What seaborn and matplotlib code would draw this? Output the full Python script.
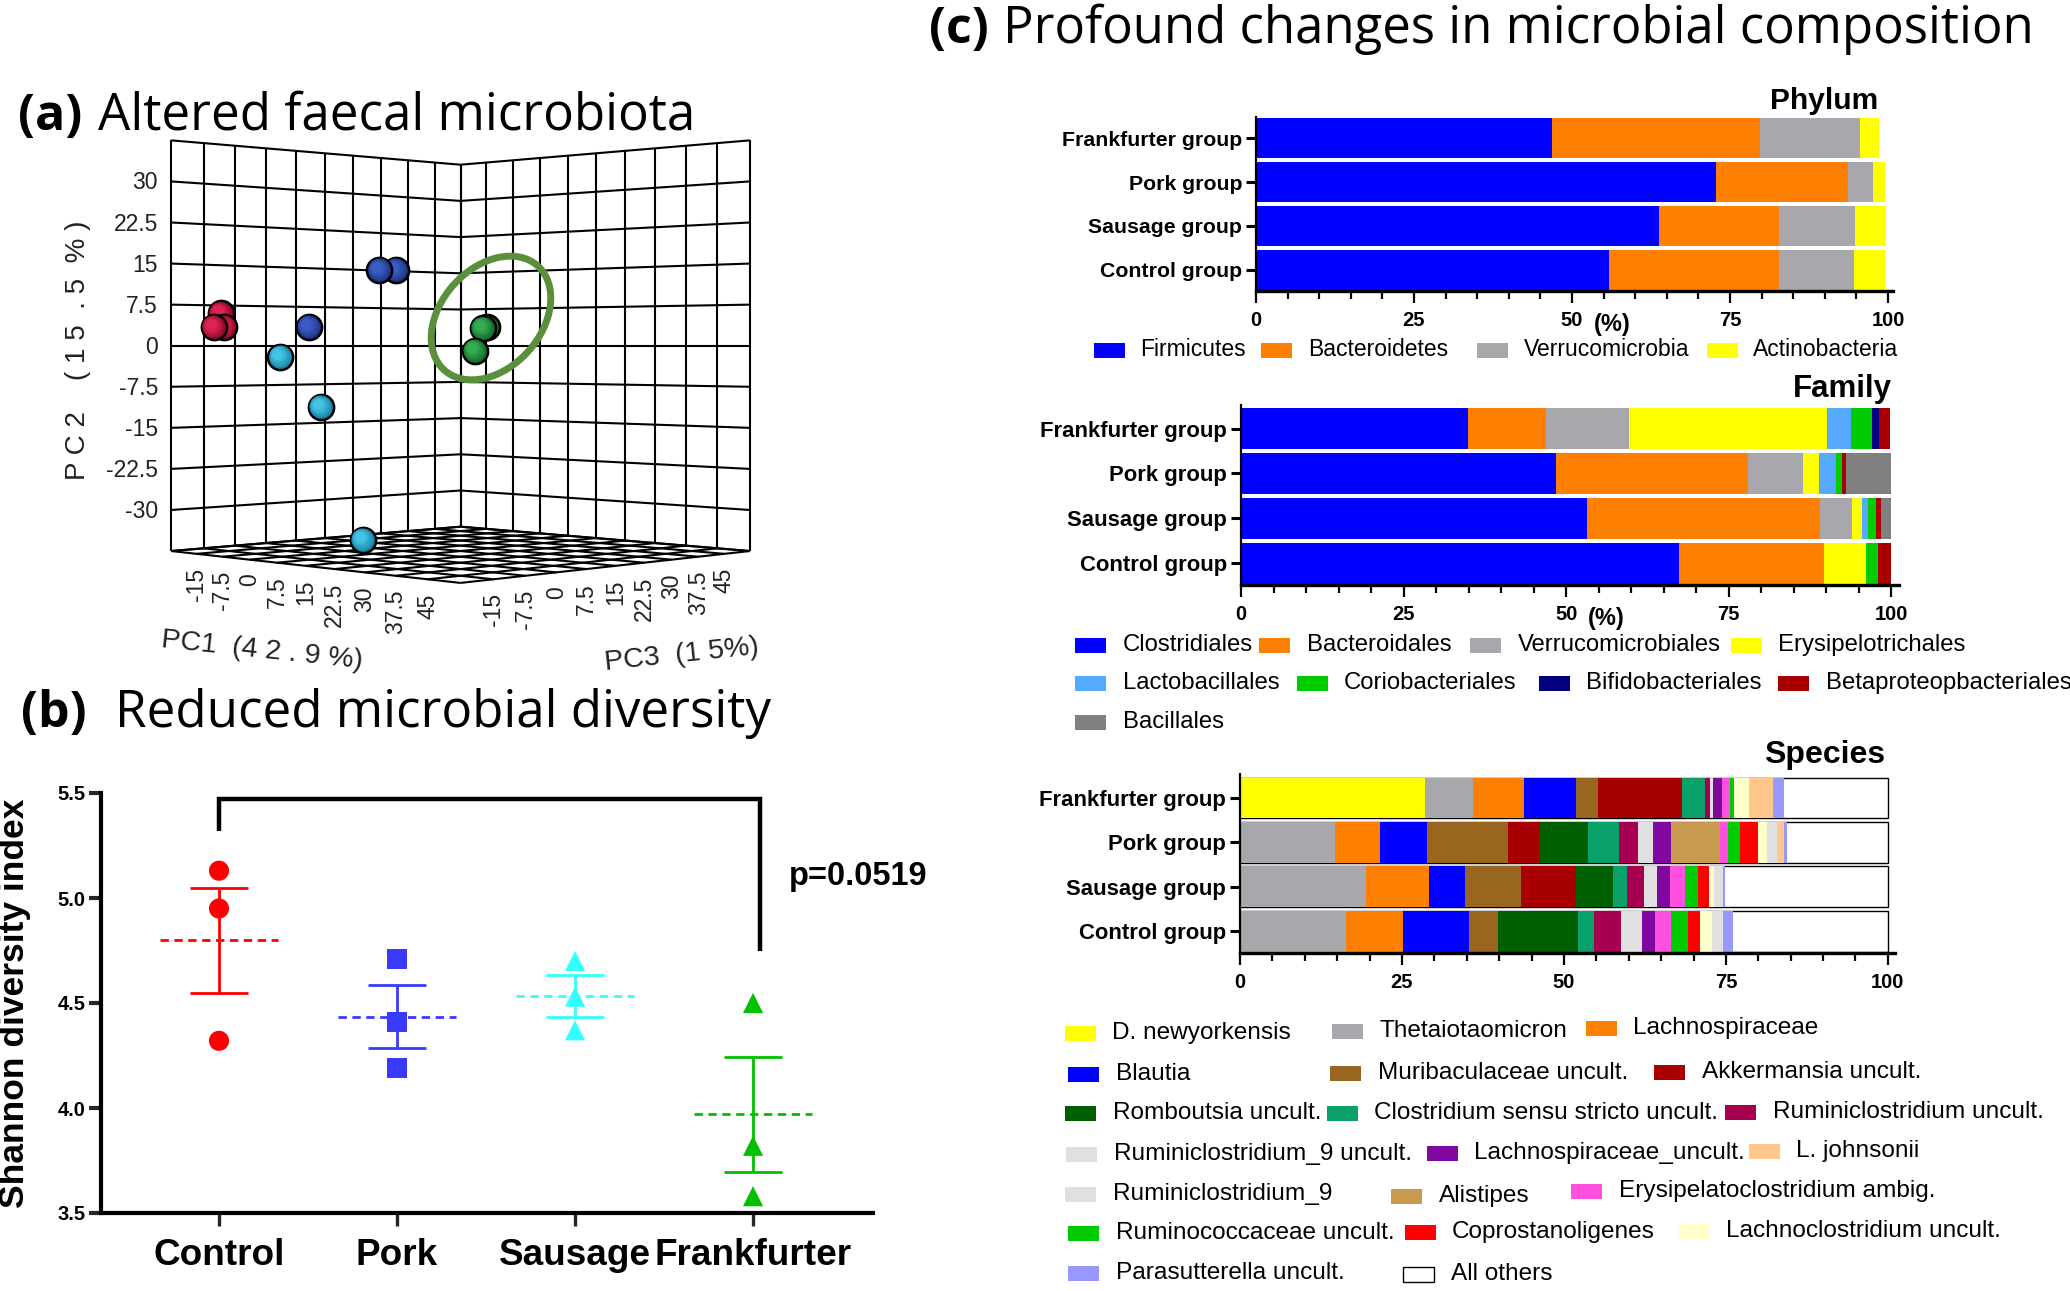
import matplotlib
matplotlib.use('Agg')
import matplotlib.pyplot as plt
from matplotlib.colors import to_rgb
import numpy as np
import pandas as pd
import seaborn as sns
from matplotlib.patches import Ellipse, Rectangle
from matplotlib.ticker import MultipleLocator

# panel (a) PCA scores, back to front
pca_group = ['Control'] * 3 + ['Pork'] * 3 + ['Sausage'] * 3 + ['Frankfurter'] * 3
pc1 = [-16.1, -15.6, -17.0, -12.7, -1.1, -3.3, -16.5, -11.1, -5.5, 25.8, 25.3, 24.3]
pc2 = [5.9, 3.4, 3.4, 3.5, 14.2, 14.2, -2.1, -11.5, -36.4, 3.3, 3.1, -0.9]
pc3 = [-16.1, -15.6, -17.0, 2.3, 13.9, 11.7, -1.5, 3.9, 9.5, 10.8, 10.3, 9.3]
pca_ticks = [-15, -7.5, 0, 7.5, 15, 22.5, 30, 37.5, 45]
pc2_ticks = [-30, -22.5, -15, -7.5, 0, 7.5, 15, 22.5, 30]

# panel (b) Shannon index
diet = ['Control', 'Pork', 'Sausage', 'Frankfurter']
shannon = [[5.13, 4.95, 4.32], [4.71, 4.41, 4.19], [4.70, 4.53, 4.37], [4.50, 3.82, 3.58]]
shannon_mean = [4.80, 4.435, 4.535, 3.97]
shannon_sem = [0.25, 0.15, 0.10, 0.275]
bracket_x = [0, 0, 3.04, 3.04]
bracket_y = [5.32, 5.47, 5.47, 4.75]

# panel (c) composition
groups = ['Frankfurter group', 'Pork group', 'Sausage group', 'Control group']

phylum_names = ['Firmicutes', 'Bacteroidetes', 'Verrucomicrobia', 'Actinobacteria']
phylum_colors = ['#0000ff', '#ff8000', '#a8a8ac', '#ffff00']
phylum = [
  [46.9, 32.8, 15.9, 3.0],
  [72.8, 20.8, 4.1, 1.9],
  [63.8, 19.0, 12.0, 4.9],
  [55.8, 26.9, 12.0, 4.9],
]

family_names = ['Clostridiales', 'Bacteroidales', 'Verrucomicrobiales', 'Erysipelotrichales',
                'Lactobacillales', 'Coriobacteriales', 'Bifidobacteriales',
                'Betaproteopbacteriales', 'Bacillales']
family_colors = ['#0000ff', '#ff8000', '#a8a8ac', '#ffff00', '#55aaff', '#00cc00', '#000080',
                 '#a80000', '#808080']
family = [
  [34.9, 12.0, 12.8, 30.5, 3.6, 3.3, 1.0, 1.7, 0],
  [48.4, 29.6, 8.5, 2.4, 2.6, 0.9, 0, 0.7, 6.9],
  [53.2, 35.8, 4.9, 1.6, 0.9, 1.3, 0, 0.8, 1.5],
  [67.4, 22.3, 0, 6.4, 0, 1.9, 0, 1.9, 0],
]

species_names = ['D. newyorkensis', 'Thetaiotaomicron', 'Lachnospiraceae', 'Blautia',
                 'Muribaculaceae uncult.', 'Akkermansia uncult.', 'Romboutsia uncult.',
                 'Clostridium sensu stricto uncult.', 'Ruminiclostridium uncult.',
                 'Ruminiclostridium_9 uncult.', 'Lachnospiraceae_uncult.', 'Alistipes',
                 'Erysipelatoclostridium ambig.', 'Ruminococcaceae uncult.', 'Coprostanoligenes',
                 'Lachnoclostridium uncult.', 'Ruminiclostridium_9', 'L. johnsonii',
                 'Parasutterella uncult.', 'All others']
species_colors = ['#ffff00', '#a8a8ac', '#ff8000', '#0000ff', '#99661f', '#a80000', '#005f00',
                  '#0aa06a', '#a80050', '#e0e0e0', '#8008a0', '#c89a50', '#ff50e0', '#00cc00',
                  '#ff0000', '#ffffcc', '#e0e0e0', '#ffc88a', '#9898ff', '#ffffff']
species = [
  [28.6, 7.4, 7.8, 8.0, 3.5, 13.0, 0, 3.4, 0.8, 0.5, 1.4, 0, 1.3, 0.5, 0, 2.4, 0, 3.6, 1.8, 16.0],
  [0, 14.6, 7.0, 7.3, 12.5, 4.9, 7.4, 4.8, 2.9, 2.4, 2.7, 7.6, 1.3, 1.7, 2.8, 1.5, 1.5, 1.0, 0.5, 15.6],
  [0, 19.5, 9.7, 5.6, 8.5, 8.5, 5.8, 2.1, 2.6, 2.1, 1.9, 0, 2.4, 2.0, 1.7, 0.7, 1.5, 0, 0.3, 25.1],
  [0, 16.4, 8.7, 10.3, 4.4, 0, 12.4, 2.5, 4.1, 3.2, 2.0, 0, 2.6, 2.6, 1.8, 1.8, 1.7, 0, 1.6, 23.9],
]

W, H = 2070, 1291
ARIAL = 'Liberation Sans'
TITLE = 'Open Sans'

sns.set_theme(style='white')
plt.rcParams['font.family'] = ARIAL

fig = plt.figure(figsize=(W / 100, H / 100), dpi=100)


def px_axes(left, top, right, bottom):
  return fig.add_axes([left / W, 1 - bottom / H, (right - left) / W, (bottom - top) / H])


# whole figure canvas in pixels, for panel (a), titles and hand placed legends
canvas = px_axes(0, 0, W, H)
canvas.set_zorder(-1)


# --------------------
# Panel a
# --------------------
CX, CY, AX_A, AX_H, PERSP = 460.5, 345.7, 255, 181, 0.1185
PC_MIN, PC_MAX = -22.5, 52.5
PC2_MAX = 37.5
grid = np.arange(PC_MIN, PC_MAX + 0.1, 7.5)
grid2 = np.arange(-PC2_MAX, PC2_MAX + 0.1, 7.5)


def project(p1, p2, p3):
  v = (np.asarray(p1, dtype=float) - PC_MIN) / (PC_MAX - PC_MIN)
  u = (PC_MAX - np.asarray(p3, dtype=float)) / (PC_MAX - PC_MIN)
  w = 1 / (1 - PERSP * (u + v))
  return CX + AX_A * (v - u) * w, CY - AX_H * (np.asarray(p2, dtype=float) / PC2_MAX) * w


def seg(p_a, p_b):
  xa, ya = project(*p_a)
  xb, yb = project(*p_b)
  canvas.plot([xa, xb], [ya, yb], color='black', lw=1.5, solid_capstyle='butt')


for g in grid:
  # walls
  seg((PC_MIN, -PC2_MAX, g), (PC_MIN, PC2_MAX, g))
  seg((g, -PC2_MAX, PC_MAX), (g, PC2_MAX, PC_MAX))
  # floor
  seg((PC_MIN, -PC2_MAX, g), (PC_MAX, -PC2_MAX, g))
  seg((g, -PC2_MAX, PC_MIN), (g, -PC2_MAX, PC_MAX))
for g in grid2:
  seg((PC_MIN, g, PC_MIN), (PC_MIN, g, PC_MAX))
  seg((PC_MIN, g, PC_MAX), (PC_MAX, g, PC_MAX))

sx, sy = project(pc1, pc2, pc3)
pca = pd.DataFrame({'group': pca_group, 'sx': sx, 'sy': sy})
sphere_dark = {'Control': '#8c0a2c', 'Pork': '#1c3480', 'Sausage': '#1a7fa0', 'Frankfurter': '#14682a'}
sphere_light = {'Control': '#dc2450', 'Pork': '#3a5cc4', 'Sausage': '#42c4e2', 'Frankfurter': '#34ac50'}

for i in range(len(pca)):
  row = pca.iloc[[i]]
  g = pca_group[i]
  sns.scatterplot(data=row, x='sx', y='sy', hue='group', palette=sphere_dark, s=330, edgecolor='black',
                  linewidth=1.8, legend=False, ax=canvas, zorder=3 + i)
  for k in range(1, 6):
    f = k / 5
    col = tuple((1 - f) * a + f * b for a, b in zip(to_rgb(sphere_dark[g]), to_rgb(sphere_light[g])))
    canvas.scatter(sx[i] - 0.6 * k, sy[i] - 0.6 * k, s=300 * (1 - 0.16 * k), color=col, linewidths=0,
                   zorder=3 + i + k / 10)

canvas.add_patch(Ellipse((491, 318), 140, 100, angle=-48, fill=False, edgecolor='#5a8f3c', lw=5, zorder=20))

for t in pc2_ticks:
  x, y = project(PC_MIN, t, PC_MIN)
  canvas.text(158, y + 1.5, f'{t:g}', ha='right', va='center', fontsize=16.5, color='#222222')
for t in pca_ticks:
  x, y = project(t, -PC2_MAX, PC_MIN)
  canvas.text(x, y + 14, f'{t:g}', ha='center', va='top', rotation=90, fontsize=16.5, color='#222222')
  x, y = project(PC_MAX, -PC2_MAX, t)
  canvas.text(x, y + 14, f'{t:g}', ha='center', va='top', rotation=90, fontsize=16.5, color='#222222')

canvas.text(78, 350, 'P C 2    ( 1 5  . 5  % )', rotation=90, ha='center', va='center', fontsize=20, color='#222222')
canvas.text(262, 651, 'PC1  (4 2 . 9 %)', rotation=-6, ha='center', va='center', fontsize=20.5, color='#222222')
canvas.text(682, 655, 'PC3  (1 5%)', rotation=6, ha='center', va='center', fontsize=20.5, color='#222222')


# --------------------
# Panel b
# --------------------
ax = px_axes(101, 793, 873, 1213)
marks = {'Control': 'o', 'Pork': 's', 'Sausage': '^', 'Frankfurter': '^'}
cols = {'Control': '#ff0000', 'Pork': '#3a3aff', 'Sausage': '#33ffff', 'Frankfurter': '#00c000'}
shan = pd.DataFrame({'diet': np.repeat(diet, 3), 'value': np.ravel(shannon)})
sns.scatterplot(data=shan, x='diet', y='value', hue='diet', style='diet', palette=cols, markers=marks,
                s=210, edgecolor='none', legend=False, ax=ax, zorder=3, clip_on=False)
for i, d in enumerate(diet):
  ax.errorbar([i], [shannon_mean[i]], yerr=[shannon_sem[i]], color=cols[d], lw=2, capsize=21, capthick=2, zorder=2)
  ax.hlines(shannon_mean[i], i - 0.33, i + 0.33, color=cols[d], lw=2, linestyles=(0, (3, 2)), zorder=2)
ax.plot(bracket_x, bracket_y, color='black', lw=3.2, solid_joinstyle='miter', solid_capstyle='butt')
ax.set_xlim(-0.663, 3.674)
ax.set_ylim(3.5, 5.5)
ax.set_yticks([3.5, 4.0, 4.5, 5.0, 5.5])
ax.set_xticks(range(4), diet)
ax.tick_params(axis='y', left=True, length=9, width=3, labelsize=14.5, pad=2, labelcolor='black')
ax.tick_params(axis='x', bottom=True, length=9, width=2.4, labelsize=26.6, pad=9, labelcolor='black')
for lab in ax.get_xticklabels() + ax.get_yticklabels():
  lab.set_fontweight('bold')
ax.set_xlabel('')
ax.set_ylabel('')
ax.patch.set_alpha(0)
sns.despine(ax=ax)
ax.spines['left'].set_linewidth(3)
ax.spines['bottom'].set_linewidth(3)
ax.spines['left'].set_color('black')
ax.spines['bottom'].set_color('black')
canvas.text(15, 1003, 'Shannon diversity index', rotation=90, ha='center', va='center',
            fontsize=25.5, fontweight='bold', color='black')
canvas.text(858, 877, 'p=0.0519', ha='center', va='center', fontsize=23.5, fontweight='bold', color='black')


# --------------------
# Panel c
# --------------------
def stacked(box, x_end, values, colors, y_lim, label_size):
  ax = px_axes(*box)
  cum = np.cumsum(np.array(values), axis=1)
  for j in range(len(colors) - 1, -1, -1):
    edge = 'black' if colors[j] == '#ffffff' else 'none'
    sns.barplot(x=cum[:, j], y=groups, order=groups, orient='y', color=colors[j], saturation=1, width=0.915,
                edgecolor=edge, linewidth=1.0 if edge == 'black' else 0, ax=ax)
  ax.set_xlim(0, x_end)
  ax.set_ylim(*y_lim)
  ax.set_xticks([0, 25, 50, 75, 100])
  ax.xaxis.set_minor_locator(MultipleLocator(5))
  ax.tick_params(axis='x', which='major', bottom=True, length=8.5, width=1.6, labelsize=14.5, pad=6,
                 color='black', labelcolor='black')
  ax.tick_params(axis='x', which='minor', bottom=True, length=5.5, width=1.6, color='black')
  ax.tick_params(axis='y', left=True, length=7, width=2.2, labelsize=label_size, pad=3,
                 color='black', labelcolor='black')
  for lab in ax.get_xticklabels() + ax.get_yticklabels():
    lab.set_fontweight('bold')
  ax.set_xlabel('')
  ax.set_ylabel('')
  ax.patch.set_alpha(0)
  sns.despine(ax=ax)
  ax.spines['left'].set_linewidth(1.6)
  ax.spines['bottom'].set_linewidth(2.4)
  ax.spines['left'].set_color('black')
  ax.spines['bottom'].set_color('black')
  return ax


stacked((1256, 117, 1893, 291), 100.8, phylum, phylum_colors, (3.48, -0.48), 15.3)
stacked((1241, 405, 1899, 585), 101.2, family, family_colors, (3.49, -0.525), 15.9)
stacked((1240, 774, 1895, 953), 101.1, species, species_colors, (3.49, -0.54), 15.9)

canvas.text(1612, 324, '(%)', ha='center', va='center', fontsize=17, fontweight='bold', color='black')
canvas.text(1606, 618, '(%)', ha='center', va='center', fontsize=17, fontweight='bold', color='black')
canvas.text(1878, 101, 'Phylum', ha='right', va='center', fontsize=21.5, fontweight='bold', color='black')
canvas.text(1892, 389, 'Family', ha='right', va='center', fontsize=22.5, fontweight='bold', color='black')
canvas.text(1885, 755, 'Species', ha='right', va='center', fontsize=23, fontweight='bold', color='black')


def swatch(x, y, name, color, tx, size):
  edge = 'black' if color == '#ffffff' else 'none'
  canvas.add_patch(Rectangle((x, y - 7.5), 31, 15, facecolor=color, edgecolor=edge, lw=1))
  canvas.text(tx, y, name, ha='left', va='center', fontsize=size, color='black')


phylum_pos = [(1094, 350, 1140), (1261, 350, 1308), (1477, 350, 1524), (1707, 350, 1753)]
for name, color, pos in zip(phylum_names, phylum_colors, phylum_pos):
  swatch(pos[0], pos[1], name, color, pos[2], 16.5)

family_pos = [(1075, 645, 1123), (1259, 645, 1307), (1470, 645, 1518), (1731, 645, 1778),
              (1075, 683, 1123), (1297, 683, 1344), (1539, 683, 1586), (1778, 683, 1826),
              (1075, 722, 1123)]
for name, color, pos in zip(family_names, family_colors, family_pos):
  swatch(pos[0], pos[1], name, color, pos[2], 17.2)

species_pos = {
  'D. newyorkensis': (1065, 1033, 1112), 'Thetaiotaomicron': (1332, 1031, 1379), 'Lachnospiraceae': (1586, 1028, 1633),
  'Blautia': (1068, 1074, 1116), 'Muribaculaceae uncult.': (1330, 1073, 1378), 'Akkermansia uncult.': (1654, 1072, 1702),
  'Romboutsia uncult.': (1065, 1113, 1113), 'Clostridium sensu stricto uncult.': (1327, 1113, 1374),
  'Ruminiclostridium uncult.': (1725, 1112, 1773), 'Ruminiclostridium_9 uncult.': (1066, 1154, 1114),
  'Lachnospiraceae_uncult.': (1427, 1153, 1474), 'L. johnsonii': (1749, 1151, 1796),
  'Ruminiclostridium_9': (1065, 1194, 1113), 'Alistipes': (1391, 1196, 1439),
  'Erysipelatoclostridium ambig.': (1571, 1191, 1619), 'Ruminococcaceae uncult.': (1068, 1233, 1116),
  'Coprostanoligenes': (1405, 1232, 1452), 'Lachnoclostridium uncult.': (1679, 1231, 1726),
  'Parasutterella uncult.': (1068, 1273, 1116), 'All others': (1403, 1274, 1451),
}
for name, color in zip(species_names, species_colors):
  pos = species_pos[name]
  swatch(pos[0], pos[1], name, color, pos[2], 17.6)


# --------------------
# Titles
# --------------------
canvas.text(18, 130, '(a)', fontsize=36, fontweight='bold', family=TITLE, color='black', va='baseline')
canvas.text(98, 130, 'Altered faecal microbiota', fontsize=36.8, family=TITLE, color='black', va='baseline')
canvas.text(21, 727, '(b)', fontsize=36, fontweight='bold', family=TITLE, color='black', va='baseline')
canvas.text(115, 727, 'Reduced microbial diversity', fontsize=36.8, family=TITLE, color='black', va='baseline')
canvas.text(929, 43, '(c)', fontsize=36, fontweight='bold', family=TITLE, color='black', va='baseline')
canvas.text(1003, 43, 'Profound changes in microbial composition', fontsize=36.6, family=TITLE, color='black', va='baseline')

canvas.set_xlim(0, W)
canvas.set_ylim(H, 0)
canvas.set_axis_off()

fig.savefig('out.png', dpi=100, facecolor='white')
